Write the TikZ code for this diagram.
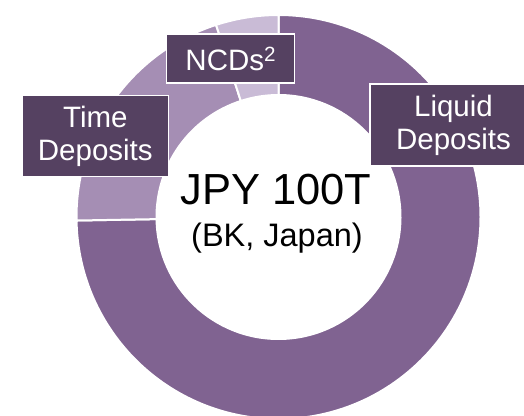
\documentclass[tikz,border=0pt]{standalone}
\usepackage{fontspec}
\setmainfont{Liberation Sans}
\definecolor{liqc}{RGB}{128,99,145}
\definecolor{timec}{RGB}{165,142,180}
\definecolor{ncdc}{RGB}{201,187,214}
\definecolor{boxc}{RGB}{85,65,97}
\begin{document}
\begin{tikzpicture}[x=1pt,y=1pt,
  seg/.style={draw=white,line width=2pt,line join=miter},
  lbl/.style={fill=boxc,draw=white,line width=1.2pt,text=white,align=center,
    inner sep=0pt,font=\fontsize{29.5}{33}\selectfont}]
\clip (0,0) rectangle (524,415);
\useasboundingbox (0,0) rectangle (524,415);
\coordinate (c) at (278.5,198);
\def\Ro{202}\def\Ri{122}
% Liquid deposits: 90 -> -179 (clockwise)
\path[seg,fill=liqc,shift={(c)}] (90:\Ro) arc[start angle=90,end angle=-179,radius=\Ro]
  -- (-179:\Ri) arc[start angle=-179,end angle=90,radius=\Ri] -- cycle;
% Time deposits: 181 -> 108
\path[seg,fill=timec,shift={(c)}] (181:\Ro) arc[start angle=181,end angle=108,radius=\Ro]
  -- (108:\Ri) arc[start angle=108,end angle=181,radius=\Ri] -- cycle;
% NCDs: 108 -> 90
\path[seg,fill=ncdc,shift={(c)}] (108:\Ro) arc[start angle=108,end angle=90,radius=\Ro]
  -- (90:\Ri) arc[start angle=90,end angle=108,radius=\Ri] -- cycle;
% labels
\node[lbl,minimum width=146pt,minimum height=81pt] (time) at (95.3,278.8) {Time\\Deposits};
\node[lbl,minimum width=128pt,minimum height=49pt] (ncd) at (230.8,356.5) {NCDs\textsuperscript{2}};
\node[lbl,minimum width=167pt,minimum height=82pt] (liq) at (453.5,290) {Liquid\\Deposits};
% centre text
\node[anchor=base,inner sep=0pt,font=\fontsize{43.5}{43.5}\selectfont] (jpy) at (276,210) {JPY 100T};
\node[anchor=base,inner sep=0pt,font=\fontsize{32.5}{32.5}\selectfont] (bk) at (277,168) {(BK, Japan)};
\end{tikzpicture}
\end{document}
